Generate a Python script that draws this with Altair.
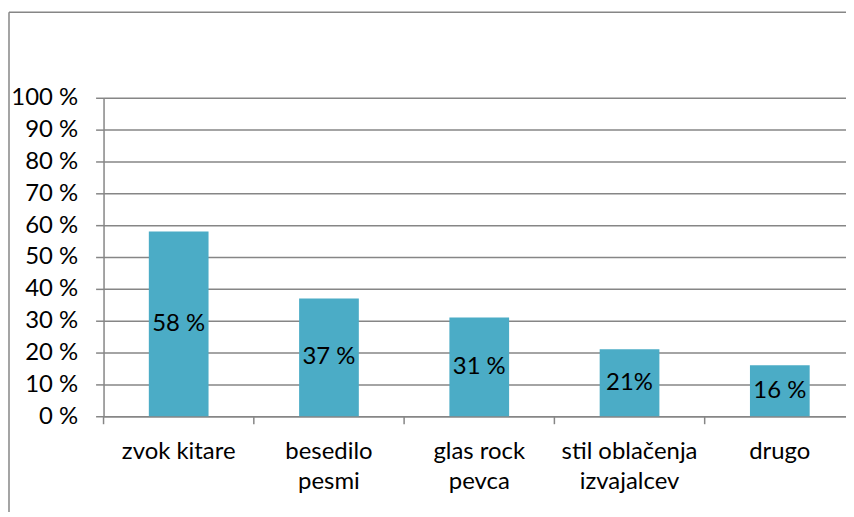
import altair as alt
import pandas as pd

categories = ["zvok kitare", "besedilo\npesmi", "glas rock\npevca", "stil oblačenja\nizvajalcev", "drugo"]
values = [58, 37, 31, 21, 16]
value_labels = ["58 %", "37 %", "31 %", "21%", "16 %"]
y_ticks = [0, 10, 20, 30, 40, 50, 60, 70, 80, 90, 100]

df = pd.DataFrame({"cat": categories, "val": values, "lab": value_labels})
one = pd.DataFrame({"k": [0]})

FONT = "Lato"
FS = 24
GRAY = "#868686"
BAR = "#4BACC6"
LW = 1.5

x_scale = alt.Scale(domain=categories, range=[0, 755], paddingInner=0, paddingOuter=0)
y_scale = alt.Scale(domain=[0, 100])

x_axis = alt.Axis(title=None, ticks=False, labelAngle=0, labelOverlap=False,
                  labelExpr="split(datum.label, '\\n')", labelFont=FONT, labelFontSize=FS,
                  labelColor="black", labelPadding=23, labelLineHeight=31,
                  domainColor=GRAY, domainWidth=LW, labelLimit=400)
y_axis = alt.Axis(title=None, values=y_ticks, labelExpr="datum.value + ' %'",
                  labelFont=FONT, labelFontSize=FS, labelColor="black", labelPadding=18,
                  tickSize=8, tickColor=GRAY, tickWidth=LW, domainColor=GRAY, domainWidth=LW,
                  gridColor=GRAY, gridWidth=LW, grid=True, labelOverlap=False)

base = alt.Chart(df)

bars = base.mark_bar(size=60, color=BAR).encode(
    x=alt.X("cat:N", scale=x_scale, sort=categories, axis=x_axis),
    y=alt.Y("val:Q", scale=y_scale, axis=y_axis),
)

texts = base.transform_calculate(mid="datum.val / 2").mark_text(
    font=FONT, fontSize=FS, color="black", baseline="middle", align="center"
).encode(
    x=alt.X("cat:N", scale=x_scale, sort=categories, axis=x_axis),
    y=alt.Y("mid:Q", scale=y_scale, axis=y_axis),
    text="lab:N",
)

xticks = base.mark_rule(color=GRAY, strokeWidth=LW).encode(
    x=alt.X("cat:N", scale=x_scale, sort=categories, bandPosition=0, axis=x_axis),
    y=alt.value(320),
    y2=alt.value(328),
)

border_top = alt.Chart(one).mark_rule(color=GRAY, strokeWidth=1.5).encode(
    x=alt.value(-95), x2=alt.value(800), y=alt.value(-86)
)
border_left = alt.Chart(one).mark_rule(color=GRAY, strokeWidth=1.5).encode(
    x=alt.value(-95), y=alt.value(-86), y2=alt.value(450)
)

chart = alt.layer(bars, texts, xticks, border_top, border_left).properties(
    width=746, height=320,
    autosize=alt.AutoSizeParams(type="none"),
    padding={"left": 96, "top": 89, "right": 0, "bottom": 95},
).configure_view(stroke=None)

chart.save("out.html", embed_options={"renderer": "svg", "actions": False})
